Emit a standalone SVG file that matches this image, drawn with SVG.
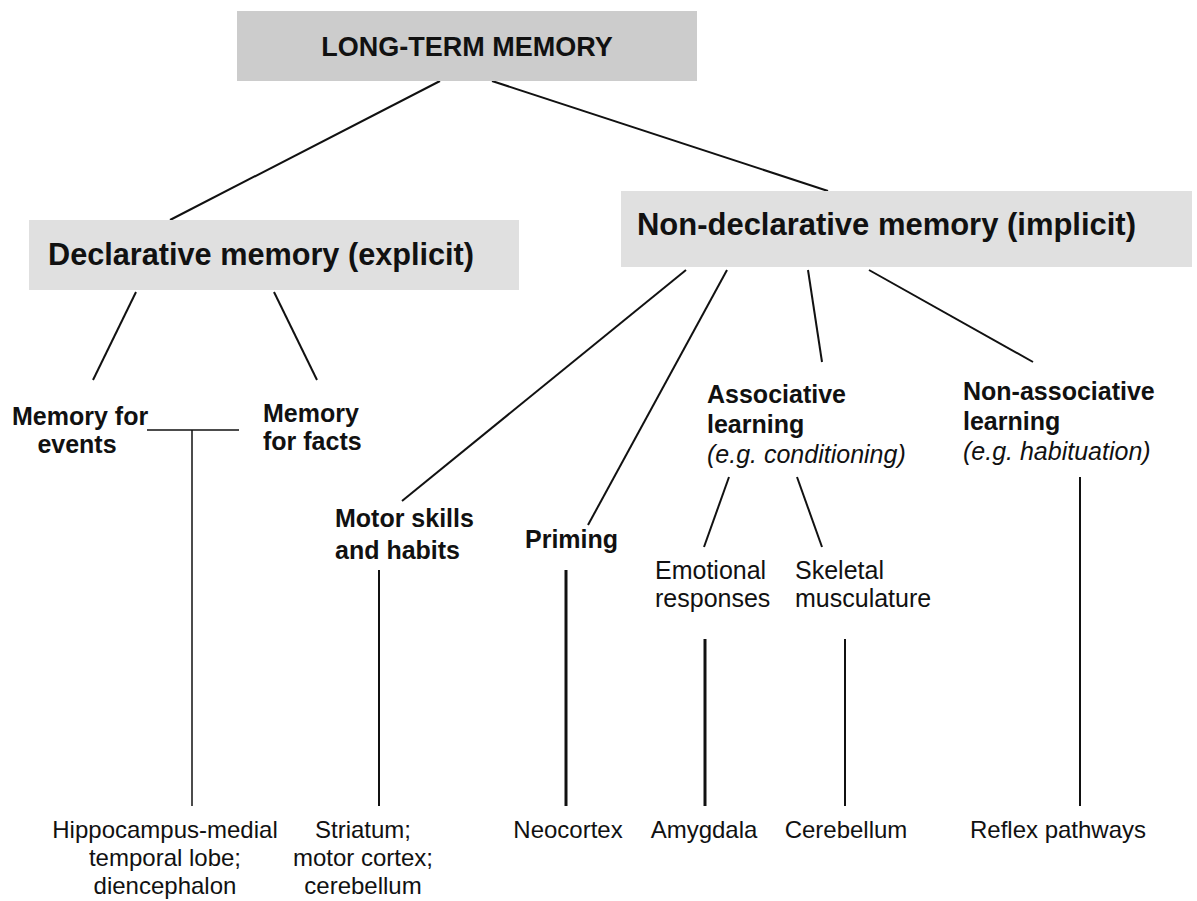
<svg xmlns="http://www.w3.org/2000/svg" width="1197" height="901" viewBox="0 0 1197 901">
<style>
text{font-family:"Liberation Sans",Arial,Helvetica,sans-serif;fill:#111}
.h{font-size:31px;font-weight:bold}
.top{font-size:27px;font-weight:bold}
.b{font-size:25px;font-weight:bold}
.r{font-size:25px}
.i{font-size:25px;font-style:italic}
.s{font-size:24px}
.box1{fill:#cccccc}
.box2{fill:#e0e0e0}
#connectors line{stroke:#111;stroke-width:2;stroke-linecap:butt}
#connectors line.thin{stroke-width:1.5}
#connectors line.thick{stroke-width:3}
</style>
<rect width="1197" height="901" fill="#ffffff"/>
<g id="connectors">
<line x1="440" y1="81" x2="170" y2="220"/>
<line x1="492" y1="81" x2="828" y2="191"/>
<line x1="136" y1="292" x2="93" y2="380"/>
<line x1="274" y1="292" x2="317" y2="380"/>
<line class="thin" x1="147" y1="430" x2="239" y2="430"/>
<line class="thin" x1="192" y1="430" x2="192" y2="806"/>
<line x1="686" y1="270" x2="402" y2="501"/>
<line x1="727" y1="270" x2="588" y2="525"/>
<line x1="808" y1="270" x2="822" y2="362"/>
<line x1="869" y1="270" x2="1033" y2="362"/>
<line x1="729" y1="477" x2="704" y2="547"/>
<line x1="797" y1="477" x2="822" y2="547"/>
<line x1="379" y1="570" x2="379" y2="806"/>
<line class="thick" x1="566" y1="570" x2="566" y2="806"/>
<line class="thick" x1="705" y1="639" x2="705" y2="806"/>
<line x1="845" y1="639" x2="845" y2="806"/>
<line x1="1080" y1="477" x2="1080" y2="806"/>
</g>
<g id="long-term">
<rect class="box1" x="237" y="11" width="460" height="70"/>
<text class="top" x="467" y="56" text-anchor="middle">LONG-TERM MEMORY</text>
</g>
<g id="declarative">
<rect class="box2" x="29" y="220" width="490" height="70"/>
<text class="h" x="48" y="265" textLength="426" lengthAdjust="spacingAndGlyphs">Declarative memory (explicit)</text>
</g>
<g id="nondeclarative">
<rect class="box2" x="621" y="191" width="571" height="76"/>
<text class="h" x="637" y="235" textLength="499" lengthAdjust="spacingAndGlyphs">Non-declarative memory (implicit)</text>
</g>
<g id="events">
<text class="b" x="12" y="425">Memory for</text>
<text class="b" x="77" y="453" text-anchor="middle">events</text>
</g>
<g id="facts">
<text class="b" x="263" y="422">Memory</text>
<text class="b" x="263" y="450">for facts</text>
</g>
<g id="motor">
<text class="b" x="335" y="527">Motor skills</text>
<text class="b" x="335" y="559">and habits</text>
</g>
<g id="priming">
<text class="b" x="525" y="548">Priming</text>
</g>
<g id="associative">
<text class="b" x="707" y="403">Associative</text>
<text class="b" x="707" y="433">learning</text>
<text class="i" x="707" y="463">(e.g. conditioning)</text>
</g>
<g id="nonassociative">
<text class="b" x="963" y="400">Non-associative</text>
<text class="b" x="963" y="430">learning</text>
<text class="i" x="963" y="460">(e.g. habituation)</text>
</g>
<g id="emotional">
<text class="r" x="655" y="579">Emotional</text>
<text class="r" x="655" y="607">responses</text>
</g>
<g id="skeletal">
<text class="r" x="795" y="579">Skeletal</text>
<text class="r" x="795" y="607">musculature</text>
</g>
<g id="hippocampus">
<text class="s" x="165" y="838" text-anchor="middle">Hippocampus-medial</text>
<text class="s" x="165" y="866" text-anchor="middle">temporal lobe;</text>
<text class="s" x="165" y="894" text-anchor="middle">diencephalon</text>
</g>
<g id="striatum">
<text class="s" x="363" y="838" text-anchor="middle">Striatum;</text>
<text class="s" x="363" y="866" text-anchor="middle">motor cortex;</text>
<text class="s" x="363" y="894" text-anchor="middle">cerebellum</text>
</g>
<g id="neocortex">
<text class="s" x="568" y="838" text-anchor="middle">Neocortex</text>
</g>
<g id="amygdala">
<text class="s" x="704" y="838" text-anchor="middle">Amygdala</text>
</g>
<g id="cerebellum">
<text class="s" x="846" y="838" text-anchor="middle">Cerebellum</text>
</g>
<g id="reflex">
<text class="s" x="1058" y="838" text-anchor="middle">Reflex pathways</text>
</g>
</svg>
